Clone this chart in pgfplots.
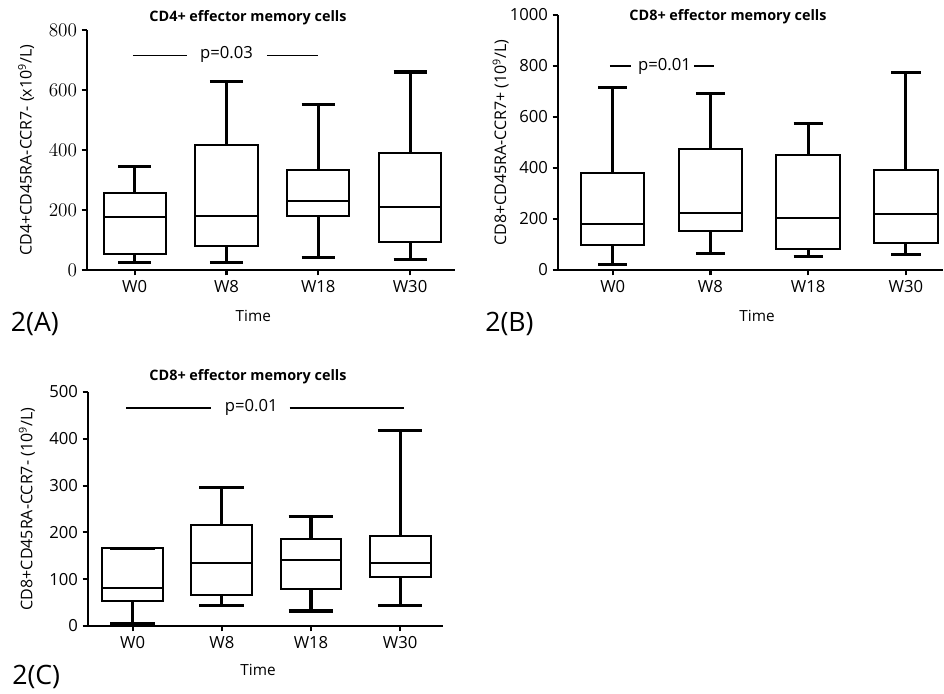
\documentclass[border=0pt]{standalone}
\usepackage{pgfplots}
\pgfplotsset{compat=1.18}
\usepgfplotslibrary{statistics}
\usepackage{fontspec}
\setmainfont{Open Sans}

\pgfplotsset{
  panel/.style={
    scale only axis,
    axis x line*=bottom, axis y line*=left,
    axis line style={line width=1.6pt},
    major tick style={line width=1.6pt, black},
    major tick length=4pt,
    tick align=outside,
    xtick={0,1,2,3},
    xticklabels={W0,W8,W18,W30},
    ymin=0,
    /pgf/number format/assume math mode=true,
    /pgf/number format/1000 sep={},
    ticklabel style={font=\fontsize{12.5}{14}\selectfont},
    ylabel style={font=\fontsize{12}{14}\selectfont},
    boxplot/draw direction=y,
    boxplot/every box/.style={line width=1.5pt},
    boxplot/every whisker/.style={line width=2.3pt},
    boxplot/every median/.style={line width=1.5pt},
    clip=false,
  },
  bx/.style={black, solid},
}
\tikzset{
  ttl/.style={font=\bfseries\fontsize{10.8}{12}\selectfont},
  tlab/.style={font=\fontsize{11.5}{13}\selectfont},
  plab/.style={font=\fontsize{12.5}{14}\selectfont},
  panelname/.style={anchor=west, font=\fontsize{20}{24}\selectfont, inner sep=0pt},
}

\begin{document}
\begin{tikzpicture}
\path[use as bounding box] (0,0) rectangle (708pt,519.75pt);

% ---- 2(A)
\begin{axis}[panel, at={(65.25pt,317.25pt)}, anchor=south west,
  width=276pt, height=180pt,
  xmin=-0.52, xmax=3.49, ymax=800, ytick={0,200,...,800},
  yticklabel={$\pgfmathprintnumber{\tick}$},
  yticklabel style={font=\fontsize{13.5}{15}\selectfont},
  ylabel={CD4+CD45RA-CCR7- (x10\textsuperscript{9}/L)}, ylabel shift=4pt,
  boxplot/box extend=0.68, boxplot/whisker extend=0.36]
\addplot+[bx, boxplot prepared={lower whisker=24, lower quartile=53, median=177, upper quartile=258, upper whisker=344, draw position=0}] coordinates {};
\addplot+[bx, boxplot prepared={lower whisker=24, lower quartile=81, median=181, upper quartile=416, upper whisker=629, draw position=1}] coordinates {};
\addplot+[bx, boxplot prepared={lower whisker=43, lower quartile=179, median=229, upper quartile=334, upper whisker=552, draw position=2}] coordinates {};
\addplot+[bx, boxplot prepared={lower whisker=34, lower quartile=93, median=209, upper quartile=389, upper whisker=660, draw position=3}] coordinates {};
\draw[line width=1pt] (axis cs:-0.02,714) -- (axis cs:0.57,714);
\draw[line width=1pt] (axis cs:1.44,714) -- (axis cs:2.0,714);
\node[plab] at (axis cs:1.0,720) {p=0.03};
\end{axis}
\node[ttl] at (186pt,506.25pt) {CD4+ effector memory cells};
\node[tlab] at (190pt,282.75pt) {Time};
\node[panelname] at (8pt,276.75pt) {2(A)};

% ---- 2(B)
\begin{axis}[panel, at={(418.5pt,317.25pt)}, anchor=south west,
  width=288.75pt, height=191.25pt,
  xmin=-0.56, xmax=3.38, ymax=1000, ytick={0,200,...,1000},
  ylabel={CD8+CD45RA-CCR7+ (10\textsuperscript{9}/L)}, ylabel shift=-6pt,
  boxplot/box extend=0.65, boxplot/whisker extend=0.3]
\addplot+[bx, boxplot prepared={lower whisker=22, lower quartile=97, median=179, upper quartile=379, upper whisker=715, draw position=0}] coordinates {};
\addplot+[bx, boxplot prepared={lower whisker=65, lower quartile=152, median=222, upper quartile=476, upper whisker=693, draw position=1}] coordinates {};
\addplot+[bx, boxplot prepared={lower whisker=52, lower quartile=81, median=204, upper quartile=450, upper whisker=573, draw position=2}] coordinates {};
\addplot+[bx, boxplot prepared={lower whisker=59, lower quartile=106, median=218, upper quartile=393, upper whisker=776, draw position=3}] coordinates {};
\draw[line width=1pt] (axis cs:-0.03,800) -- (axis cs:0.19,800);
\draw[line width=1pt] (axis cs:0.83,800) -- (axis cs:1.04,800);
\node[plab] at (axis cs:0.53,800) {p=0.01};
\end{axis}
\node[ttl] at (546pt,507pt) {CD8+ effector memory cells};
\node[tlab] at (567.75pt,282.75pt) {Time};
\node[panelname] at (363.75pt,276.75pt) {2(B)};

% ---- 2(C)
\begin{axis}[panel, at={(66pt,50.25pt)}, anchor=south west,
  width=266.25pt, height=175.5pt,
  xmin=-0.5, xmax=3.48, ymax=500, ytick={0,100,...,500},
  ylabel={CD8+CD45RA-CCR7- (10\textsuperscript{9}/L)}, ylabel shift=4pt,
  boxplot/box extend=0.68, boxplot/whisker extend=0.5]
\addplot+[bx, boxplot prepared={lower whisker=5, lower quartile=53, median=81, upper quartile=166, upper whisker=166, draw position=0}] coordinates {};
\addplot+[bx, boxplot prepared={lower whisker=44, lower quartile=66, median=134, upper quartile=215, upper whisker=296, draw position=1}] coordinates {};
\addplot+[bx, boxplot prepared={lower whisker=32, lower quartile=79, median=141, upper quartile=186, upper whisker=234, draw position=2}] coordinates {};
\addplot+[bx, boxplot prepared={lower whisker=44, lower quartile=104, median=134, upper quartile=193, upper whisker=417, draw position=3}] coordinates {};
\draw[line width=1pt] (axis cs:-0.07,466) -- (axis cs:0.88,466);
\draw[line width=1pt] (axis cs:1.76,466) -- (axis cs:3.04,466);
\node[plab] at (axis cs:1.33,466) {p=0.01};
\end{axis}
\node[ttl] at (186pt,237pt) {CD8+ effector memory cells};
\node[tlab] at (193.5pt,17.25pt) {Time};
\node[panelname] at (9pt,12pt) {2(C)};
\end{tikzpicture}
\end{document}
